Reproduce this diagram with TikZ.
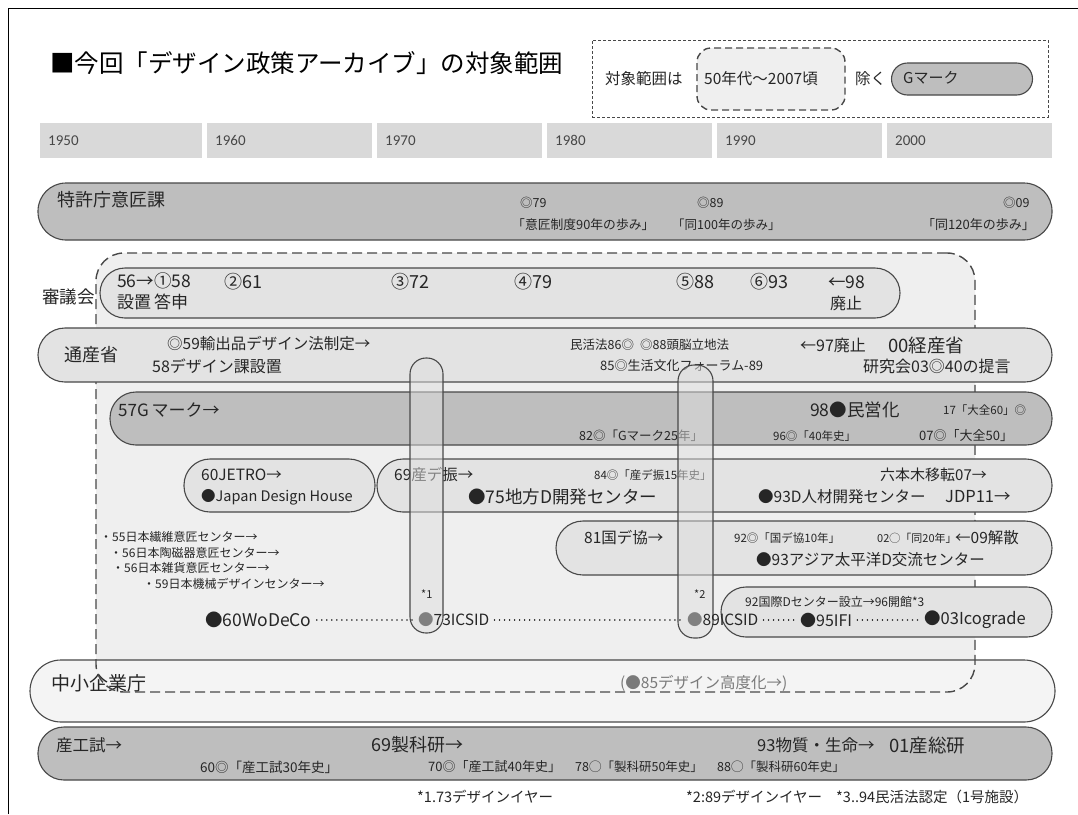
\documentclass[tikz,border=0pt]{standalone}
\usepackage{fontspec}
\setmainfont{Noto Sans CJK JP}
\newfontfamily\yearfont{Carlito}
\newcommand\myfs[1]{\fontsize{#1}{#1}\selectfont}
\definecolor{dkrow}{HTML}{BEBEBE}
\definecolor{ltrow}{HTML}{E3E3E3}
\definecolor{rangefill}{HTML}{EFEFEF}
\definecolor{palerow}{HTML}{F4F4F4}
\definecolor{yearcell}{HTML}{D9D9D9}
\definecolor{bord}{HTML}{484848}
\definecolor{txt}{HTML}{262626}
\definecolor{dimtxt}{HTML}{7A7A7A}
\begin{document}
\begin{tikzpicture}[x=1pt,y=-1pt,
  pill/.style={draw=bord, line width=1.1pt, inner sep=0pt},
  lbl/.style={anchor=west, inner sep=0pt, text=txt, font=\myfs{18}},
  bodytxt/.style={anchor=west, inner sep=0pt, text=txt, font=\myfs{15.5}},
  smalltxt/.style={anchor=west, inner sep=0pt, text=txt, font=\myfs{12.5}},
  listtxt/.style={anchor=west, inner sep=0pt, text=txt, font=\myfs{12}},
  foottxt/.style={anchor=west, inner sep=0pt, text=txt, font=\myfs{14.5}},
  capsule/.style={draw=bord, line width=1.1pt, fill=white!75!gray, fill opacity=0.5, rounded corners=16pt, inner sep=0pt},
  dotline/.style={draw=txt, line width=1.6pt, dash pattern=on 0.01pt off 5pt, line cap=round},
  yearcellst/.style={fill=yearcell, inner sep=0pt, minimum height=35, anchor=north west},
  yeartxt/.style={anchor=base west, inner sep=0pt, text=txt!85, font=\yearfont\myfs{15}},
]
\useasboundingbox (0,0) rectangle (1078,814);
\fill[white] (0,0) rectangle (1078,814);
% outer frame
\draw[line width=1pt, black] (8,814) -- (8,8) -- (1078,8);

% title
\node[anchor=west, inner sep=0pt, text=black, font=\myfs{24.5}] (title) at (50,63) {■今回「デザイン政策アーカイブ」の対象範囲};

% legend
\node[draw=bord, line width=0.8pt, dash pattern=on 3pt off 2pt, minimum width=456, minimum height=77, inner sep=0pt] (legend) at (820,78.5) {};
\node[anchor=west, inner sep=0pt, text=txt, font=\myfs{15.5}] (legtxt) at (605,79) {対象範囲は};
\node[draw=bord, line width=1.4pt, dash pattern=on 7pt off 4pt, rounded corners=14pt, minimum width=148, minimum height=62, fill=rangefill, inner sep=0pt] (legrange) at (771,79) {};
\node[anchor=west, inner sep=0pt, text=txt, font=\myfs{15.5}] (legrangetxt) at (704,79) {50年代～2007頃};
\node[anchor=west, inner sep=0pt, text=txt, font=\myfs{15.5}] (legexcl) at (855,79) {除く};
\node[pill, fill=dkrow, rounded corners=16pt, minimum width=141, minimum height=32] (leggm) at (962,79) {};
\node[anchor=west, inner sep=0pt, text=txt, font=\myfs{15}] (leggmtxt) at (903,78) {Gマーク};

% year band
\node[yearcellst, minimum width=162] (c1950) at (40,123) {};
\node[yearcellst, minimum width=165] (c1960) at (207,123) {};
\node[yearcellst, minimum width=165] (c1970) at (377,123) {};
\node[yearcellst, minimum width=165] (c1980) at (547,123) {};
\node[yearcellst, minimum width=165] (c1990) at (717,123) {};
\node[yearcellst, minimum width=165] (c2000) at (887,123) {};
\node[yeartxt] (y1950) at (48,145) {1950};
\node[yeartxt] (y1960) at (215,145) {1960};
\node[yeartxt] (y1970) at (385,145) {1970};
\node[yeartxt] (y1980) at (555,145) {1980};
\node[yeartxt] (y1990) at (725,145) {1990};
\node[yeartxt] (y2000) at (895,145) {2000};

% 特許庁意匠課
\node[pill, fill=dkrow, rounded corners=28pt, minimum width=1014, minimum height=57] (tokkyo) at (545,211.5) {};
\node[lbl] (tokkyolbl) at (57,200) {特許庁意匠課};
\node[smalltxt] (t79) at (520,203) {◎79};
\node[smalltxt, font=\myfs{12.8}] (t79b) at (512,225) {「意匠制度90年の歩み」};
\node[smalltxt] (t89) at (697,203) {◎89};
\node[smalltxt] (t89b) at (672,225) {「同100年の歩み」};
\node[smalltxt] (t09) at (1003,203) {◎09};
\node[smalltxt, font=\myfs{13}] (t09b) at (922,225) {「同120年の歩み」};

% range box fill
\node[fill=rangefill, rounded corners=28pt, minimum width=879, minimum height=439, inner sep=0pt] (rangefillbox) at (535.5,472.5) {};

% 中小企業庁
\node[pill, fill=palerow, rounded corners=31pt, minimum width=1025, minimum height=62] (chusho) at (542.5,691) {};
\node[lbl, font=\myfs{19}] (chusholbl) at (51,683) {中小企業庁};
\node[anchor=west, inner sep=0pt, text=dimtxt, font=\myfs{15.5}] (kodoka) at (620,683) {(●85デザイン高度化→)};

% range box border
\node[draw=bord, line width=1.4pt, dash pattern=on 10pt off 5pt, rounded corners=28pt, minimum width=879, minimum height=439, inner sep=0pt] (range) at (535.5,472.5) {};

% 審議会
\node[pill, fill=ltrow, rounded corners=25pt, minimum width=800, minimum height=50] (shingi) at (500,293) {};
\node[lbl, font=\myfs{17.5}] (shingilbl) at (42,297) {審議会};
\node[bodytxt, font=\myfs{17.5}] (s58) at (117,281) {56→①58};
\node[bodytxt, font=\myfs{17}] (s58b) at (117,302) {設置\,答申};
\node[bodytxt, font=\myfs{18}] (s61) at (224,282) {②61};
\node[bodytxt, font=\myfs{18}] (s72) at (391,282) {③72};
\node[bodytxt, font=\myfs{18}] (s79) at (514,282) {④79};
\node[bodytxt, font=\myfs{18}] (s88) at (676,282) {⑤88};
\node[bodytxt, font=\myfs{18}] (s93) at (750,282) {⑥93};
\node[bodytxt, font=\myfs{17.5}] (s98) at (828,282) {←98};
\node[bodytxt, font=\myfs{16}] (s98b) at (830,303) {廃止};

% 通産省
\node[pill, fill=ltrow, rounded corners=27pt, minimum width=1014, minimum height=54] (tsusan) at (545,355) {};
\node[lbl] (tsusanlbl) at (64,355) {通産省};
\node[bodytxt] (m59) at (167,344) {◎59輸出品デザイン法制定→};
\node[bodytxt, font=\myfs{16}] (m58) at (152,366) {58デザイン課設置};
\node[smalltxt] (m86) at (570,345) {民活法86◎};
\node[smalltxt] (m88) at (640,345) {◎88頭脳立地法};
\node[smalltxt, font=\myfs{13}] (m85) at (600,366) {85◎生活文化フォーラム-89};
\node[bodytxt, font=\myfs{16}] (m97) at (800,345) {←97廃止};
\node[anchor=west, inner sep=0pt, text=txt, font=\myfs{18.5}] (m00) at (888,345) {00経産省};
\node[bodytxt, font=\myfs{16}] (m03) at (863,366) {研究会03◎40の提言};

% 57Gマーク
\node[pill, fill=dkrow, rounded corners=26pt, minimum width=942, minimum height=53] (gmark) at (581,418.5) {};
\node[bodytxt, font=\myfs{17}] (g57) at (118,410) {57G\,マーク→};
\node[smalltxt] (g82) at (579,436) {82◎「Gマーク25年」};
\node[bodytxt, font=\myfs{17.5}] (g98) at (810,410) {98●民営化};
\node[smalltxt, font=\myfs{11.5}] (g96) at (773,436) {96◎「40年史」};
\node[smalltxt, font=\myfs{11.5}] (g17) at (943,410) {17「大全60」◎};
\node[smalltxt, font=\myfs{13}] (g07) at (919,436) {07◎「大全50」};

% JETRO
\node[pill, fill=ltrow, rounded corners=26pt, minimum width=191, minimum height=53] (jetro) at (279.5,485.5) {};
\node[bodytxt] (j60) at (201,475) {60JETRO→};
\node[bodytxt, font=\myfs{14.5}] (jdh) at (201,497) {●Japan Design House};

% 産デ振
\node[pill, fill=ltrow, rounded corners=26pt, minimum width=675, minimum height=53] (sandeshin) at (714.5,485.5) {};
\node[bodytxt] (d69) at (394,475) {69産デ振→};
\node[bodytxt, font=\myfs{17.5}] (d75) at (468,497) {●75地方D開発センター};
\node[smalltxt, font=\myfs{11.5}] (d84) at (594,475) {84◎「産デ振15年史」};
\node[bodytxt, font=\myfs{15}] (d07) at (880,475) {六本木移転07→};
\node[bodytxt] (d93) at (758,497) {●93D人材開発センター};
\node[bodytxt, font=\myfs{16.5}] (d11) at (945,497) {JDP11→};

% 国デ協
\node[pill, fill=ltrow, rounded corners=27pt, minimum width=496, minimum height=54] (kokudekyo) at (804,548) {};
\node[bodytxt] (k81) at (584,538) {81国デ協→};
\node[smalltxt, font=\myfs{11.5}] (k92) at (734,538) {92◎「国デ協10年」};
\node[smalltxt, font=\myfs{11}] (k02) at (877,538) {02◯「同20年」};
\node[anchor=west, inner sep=0pt, text=txt, font=\myfs{15.5}] (k09) at (955,538) {←09解散};
\node[bodytxt] (k93) at (756,560) {●93アジア太平洋D交流センター};

% 国際D
\node[pill, fill=ltrow, rounded corners=25pt, minimum width=331, minimum height=50] (kokusai) at (886.5,612) {};
\node[anchor=west, inner sep=0pt, text=txt, font=\myfs{12}] (x92) at (745,602) {92国際Dセンター設立→96開館*3};

% list of centers
\node[listtxt] (l55) at (100,537) {・55日本繊維意匠センター→};
\node[listtxt] (l56a) at (110,553) {・56日本陶磁器意匠センター→};
\node[listtxt] (l56b) at (112,568) {・56日本雑貨意匠センター→};
\node[listtxt] (l59) at (143,584) {・59日本機械デザインセンター→};

% 産工試
\node[pill, fill=dkrow, rounded corners=26pt, minimum width=1014, minimum height=53] (sankoshi) at (545,753.5) {};
\node[lbl, font=\myfs{16.5}] (sklbl) at (56,745) {産工試→};
\node[bodytxt, font=\myfs{18}] (sk69) at (371,745) {69製科研→};
\node[bodytxt, font=\myfs{16.5}] (sk93) at (757,745) {93物質・生命→};
\node[bodytxt, font=\myfs{18.5}] (sk01) at (889,745) {01産総研};
\node[smalltxt, font=\myfs{13.5}] (sk60) at (200,767) {60◎「産工試30年史」};
\node[smalltxt, font=\myfs{13}] (sk70) at (428,767) {70◎「産工試40年史」};
\node[smalltxt] (sk78) at (575,767) {78◯「製科研50年史」};
\node[smalltxt] (sk88) at (717,767) {88◯「製科研60年史」};

% vertical capsules
\node[capsule, minimum width=33, minimum height=275] (cap1) at (426.5,495.5) {};
\node[capsule, minimum width=35, minimum height=273] (cap2) at (695.5,501.5) {};

% organisations line
\node[bodytxt, font=\myfs{17.5}] (wodeco) at (205,620) {●60WoDeCo};
\node[bodytxt] (icsid73) at (418,620) {{\color{gray}●}73ICSID};
\node[bodytxt] (icsid89) at (687,620) {{\color{gray}●}89ICSID};
\node[bodytxt, font=\myfs{16}] (ifi) at (800,620) {●95IFI};
\node[bodytxt, font=\myfs{16.5}] (icograde) at (924,620) {●03Icograde};
\node[smalltxt, font=\myfs{11}] (star1) at (421,594) {*1};
\node[smalltxt, font=\myfs{11}] (star2) at (694,594) {*2};
\draw[dotline] ([xshift=5pt]wodeco.east) -- ([xshift=-5pt]icsid73.west);
\draw[dotline] ([xshift=5pt]icsid73.east) -- ([xshift=-5pt]icsid89.west);
\draw[dotline] ([xshift=5pt]icsid89.east) -- ([xshift=-4pt]ifi.west);
\draw[dotline] ([xshift=5pt]ifi.east) -- ([xshift=-4pt]icograde.west);

% footnotes
\node[foottxt] (fn1) at (417,797) {*1.73デザインイヤー};
\node[foottxt] (fn2) at (686,797) {*2:89デザインイヤー};
\node[foottxt] (fn3) at (836,797) {*3..94民活法認定（1号施設）};
\end{tikzpicture}
\end{document}
